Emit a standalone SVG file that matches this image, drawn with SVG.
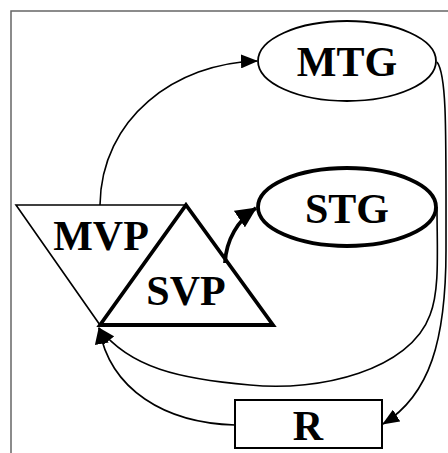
<svg xmlns="http://www.w3.org/2000/svg" width="448" height="453" viewBox="0 0 448 453">
  <style>
    .thin { fill: none; stroke: #000; stroke-width: 1.6; }
    .thick { fill: none; stroke: #000; stroke-width: 3.8; }
    .shape { fill: #fff; stroke: #000; }
    .lbl { font-family: "Liberation Serif", "Times New Roman", serif; font-weight: bold; font-size: 42px; text-anchor: middle; fill: #000; }
  </style>
  <defs>
    <marker id="arrow" markerUnits="userSpaceOnUse" viewBox="0 0 17 14" markerWidth="17" markerHeight="14" refX="16" refY="7" orient="auto">
      <path d="M0,0 L17,7 L0,14 z" fill="#000"/>
    </marker>
    <marker id="arrowBold" markerUnits="userSpaceOnUse" viewBox="0 0 21 20" markerWidth="21" markerHeight="20" refX="20" refY="10" orient="auto">
      <path d="M0,0 L21,10 L0,20 z" fill="#000"/>
    </marker>
  </defs>

  <rect x="0" y="0" width="448" height="453" fill="#fff"/>
  <rect id="frame" x="11" y="11" width="460" height="460" fill="none" stroke="#666" stroke-width="1.5"/>

  <g id="connectors">
    <!-- MVP to MTG -->
    <path class="thin" d="M100,205 C101,118 176,63 257,61" marker-end="url(#arrow)"/>
    <!-- SVP to STG -->
    <path class="thick" d="M225,263 C226,240 238,220 256,208" marker-end="url(#arrowBold)"/>
    <!-- MTG to R -->
    <path class="thin" d="M437,62 C447,75 446,130 446,250 C446,340 430,395 383,424" marker-end="url(#arrow)"/>
    <!-- STG to MVP -->
    <path class="thin" d="M437,207 C437,250 440,290 430,315 C410,370 320,392 250,385 C180,379 130,368 99,328" marker-end="url(#arrow)"/>
    <!-- R to MVP -->
    <path class="thin" d="M235,425 C165,423 110,390 99,328" marker-end="url(#arrow)"/>
  </g>

  <g id="MTG">
    <ellipse class="shape" cx="347" cy="61" rx="89" ry="40" stroke-width="1.8"/>
    <text class="lbl" x="347" y="76">MTG</text>
  </g>

  <g id="STG">
    <ellipse class="shape" cx="347" cy="207" rx="89" ry="39" stroke-width="3.8"/>
    <text class="lbl" x="347" y="223">STG</text>
  </g>

  <g id="MVP">
    <polygon class="shape" points="16,205 186,205 100,325" stroke-width="1.6"/>
    <text class="lbl" x="101" y="250">MVP</text>
  </g>

  <g id="SVP">
    <polygon points="186,205 273,325 100,325" fill="none" stroke="#000" stroke-width="3.8" stroke-linejoin="miter"/>
    <text class="lbl" x="186" y="305">SVP</text>
  </g>

  <g id="R">
    <rect class="shape" x="235" y="400" width="147" height="48" stroke-width="2"/>
    <text class="lbl" x="308" y="440">R</text>
  </g>
</svg>
